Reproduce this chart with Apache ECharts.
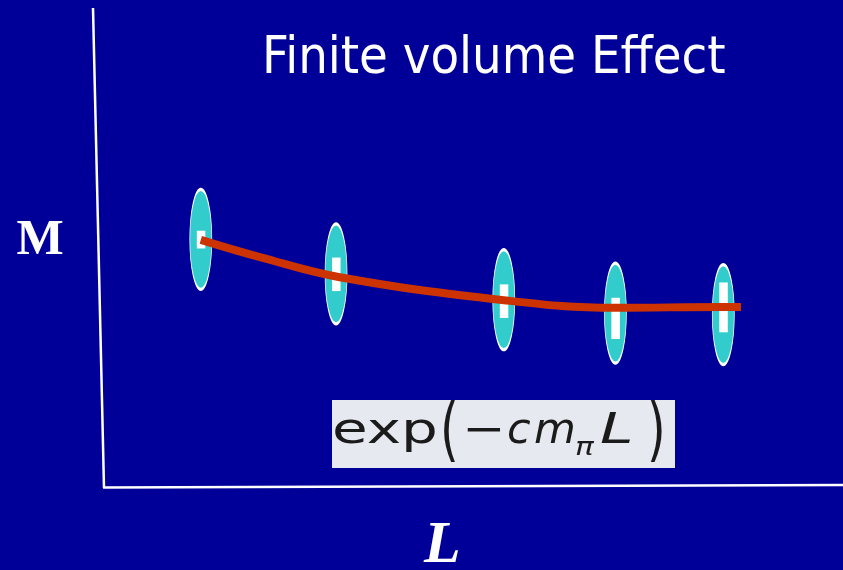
<!DOCTYPE html>
<html>
<head>
<meta charset="utf-8">
<style>
  html, body { margin: 0; padding: 0; background: #000099; }
  #chart { width: 843px; height: 570px; }
</style>
<script src="https://cdn.jsdelivr.net/npm/echarts@6/dist/echarts.min.js"></script>
</head>
<body>
<div id="chart"></div>
<script>
// Lattice sizes L (arbitrary units) of the five measurements
const boxSizes = [1.31, 3.14, 5.41, 6.92, 8.38];
// Centre of each fitted mass distribution
const massCentre = [5.17, 4.45, 3.91, 3.63, 3.60];
// Statistical error band on each mass: low / high
const massLow  = [4.98, 4.09, 3.53, 3.09, 3.23];
const massHigh = [5.35, 4.79, 4.23, 3.95, 4.27];
// Fitted curve  ~ exp(-c m_pi L)
const fitL = [1.31, 2.11, 3.19, 5.41, 6.91, 8.38, 8.62];
const fitM = [5.16, 4.80, 4.38, 3.90, 3.74, 3.76, 3.76];

const chart = echarts.init(document.getElementById('chart'), null, { renderer: 'canvas' });

const ellipsePath = 'path://M0,1A1,1,0,1,1,2,1A1,1,0,1,1,0,1Z';
const ink = '#1b1b1b';
const formulaFont = '"DejaVu Sans", sans-serif';

function formulaPiece(text, x, y, size, opts) {
  opts = opts || {};
  return {
    type: 'text', x: x, y: y, scaleX: opts.scaleX || 1, scaleY: opts.scaleY || 1, z: 6,
    style: {
      text: text, fill: ink,
      font: (opts.italic ? 'italic ' : '') + size + 'px ' + formulaFont,
      textAlign: 'left', textVerticalAlign: 'middle'
    }
  };
}

chart.setOption({
  backgroundColor: '#000099',
  animation: false,
  grid: { left: 104, right: 0, top: 8, bottom: 83 },
  xAxis: { type: 'value', min: 0, max: 10, show: false },
  yAxis: { type: 'value', min: 0, max: 10, show: false },
  series: [
    {
      type: 'scatter',
      symbol: ellipsePath,
      symbolSize: [22, 100],
      itemStyle: { color: '#33CCCC', borderColor: '#ffffff', borderWidth: 1.5, opacity: 1 },
      data: boxSizes.map((l, i) => [l, massCentre[i]]),
      z: 2
    },
    {
      type: 'custom',
      data: boxSizes.map((l, i) => [l, massLow[i], massHigh[i]]),
      renderItem: function (params, api) {
        const top = api.coord([api.value(0), api.value(2)]);
        const bot = api.coord([api.value(0), api.value(1)]);
        return {
          type: 'rect',
          shape: { x: top[0] - 4, y: top[1], width: 8.5, height: bot[1] - top[1] },
          style: { fill: '#ffffff' }
        };
      },
      z: 3
    },
    {
      type: 'line',
      data: fitL.map((l, i) => [l, fitM[i]]),
      smooth: 0.4,
      showSymbol: false,
      lineStyle: { color: '#CC3300', width: 8, cap: 'butt' },
      z: 4
    }
  ],
  graphic: [
    // axes
    { type: 'line', shape: { x1: 93, y1: 8, x2: 104, y2: 488 },
      style: { stroke: '#ffffff', lineWidth: 2.5 }, z: 1 },
    { type: 'line', shape: { x1: 103, y1: 487.5, x2: 843, y2: 485 },
      style: { stroke: '#ffffff', lineWidth: 2.5 }, z: 1 },
    // title
    { type: 'text', x: 262, y: 59,
      style: { text: 'Finite volume Effect', fill: '#ffffff',
        font: '52px "DejaVu Sans Condensed", "DejaVu Sans", sans-serif',
        textAlign: 'left', textVerticalAlign: 'middle' } },
    // axis names
    { type: 'text', x: 40, y: 241,
      style: { text: 'M', fill: '#ffffff',
        font: 'bold 50px "Liberation Serif", serif',
        textAlign: 'center', textVerticalAlign: 'middle' } },
    { type: 'text', x: 424, y: 546,
      style: { text: 'L', fill: '#ffffff',
        font: 'italic bold 60px "Liberation Serif", serif',
        textAlign: 'left', textVerticalAlign: 'middle' } },
    // formula box
    { type: 'rect', shape: { x: 332, y: 400, width: 343, height: 68 },
      style: { fill: '#E6E9EF' }, z: 5 },
    formulaPiece('exp', 332, 432, 43, { scaleX: 1.35 }),
    formulaPiece('(', 440, 435, 48, { scaleY: 1.45 }),
    formulaPiece('\u2212', 462, 432, 43, { scaleX: 1.2 }),
    formulaPiece('c', 507, 432, 43, { italic: true }),
    formulaPiece('m', 534, 432, 43, { italic: true }),
    formulaPiece('\u03c0', 575, 449, 24, { italic: true, scaleX: 1.3 }),
    formulaPiece('L', 600, 432, 43, { italic: true, scaleX: 1.4 }),
    formulaPiece(')', 647, 435, 48, { scaleY: 1.45 })
  ]
});
</script>
</body>
</html>
